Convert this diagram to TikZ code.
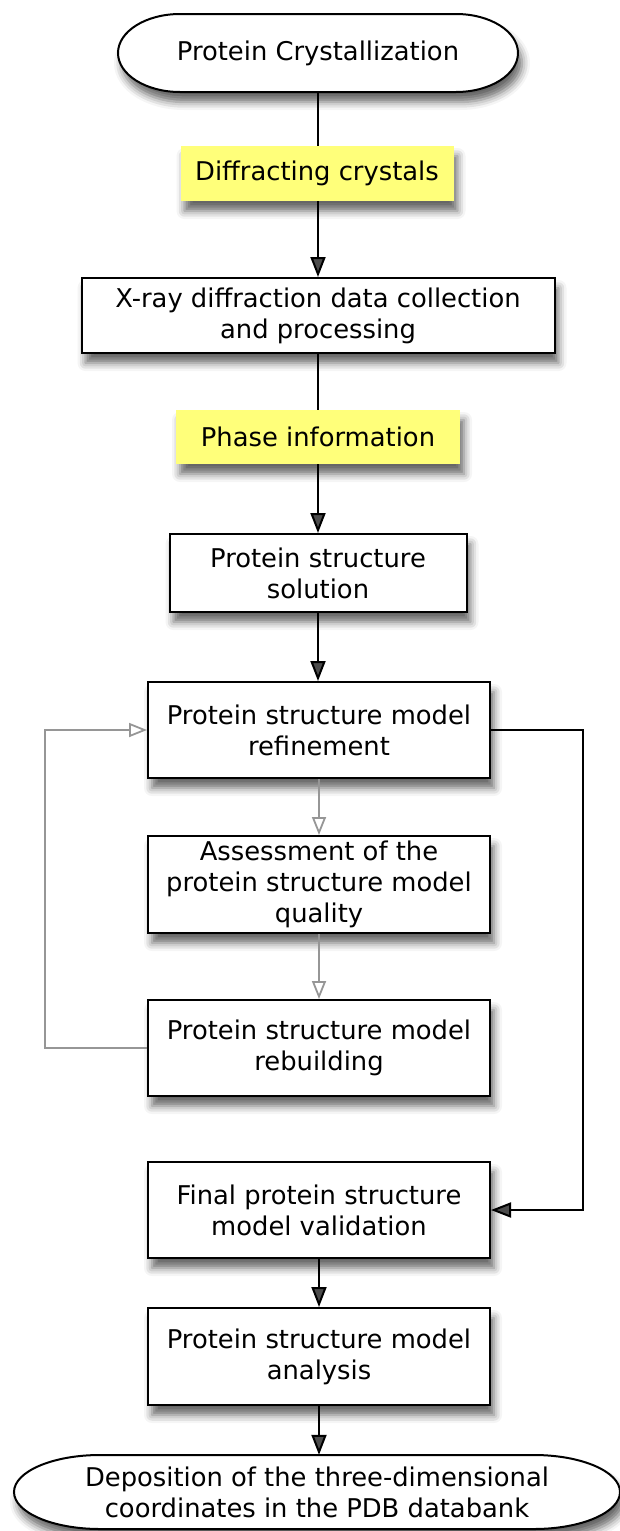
\documentclass[tikz,border=0pt]{standalone}
\usepackage{fontspec}
\setmainfont{DejaVu Sans}
\usetikzlibrary{arrows.meta,shadows.blur}
\definecolor{tagyellow}{RGB}{255,255,122}
\definecolor{loopgray}{RGB}{150,150,150}
\tikzset{
  shade/.style={blur shadow={shadow xshift=4pt,shadow yshift=-10pt,shadow blur radius=8pt,shadow opacity=60}},
  txt/.style={font=\fontsize{25.8}{31}\selectfont,align=center,inner sep=0pt},
  stepbox/.style={txt,draw,line width=2pt,fill=white,shade},
  tag/.style={txt,fill=tagyellow,shade},
  flow/.style={line width=2pt,-{Triangle[width=15pt,length=20pt]}},
  back/.style={line width=1.8pt,loopgray,-{Triangle[open,width=14pt,length=18pt,fill=white]}}
}
\begin{document}
\begin{tikzpicture}[x=1pt,y=1pt]
  \useasboundingbox (0,0) rectangle (620,-1531);
  %% terminals
  \draw[line width=2pt,fill=white,shade] (180,-14) -- (456,-14)
    arc[start angle=90,end angle=-90,x radius=62,y radius=39] -- (180,-92)
    arc[start angle=-90,end angle=-270,x radius=62,y radius=39] -- cycle;
  \node[txt,minimum width=403,minimum height=78] (top) at (318,-53) {Protein Crystallization};
  \draw[line width=2pt,fill=white,shade] (100,-1455) -- (534,-1455)
    arc[start angle=90,end angle=-90,x radius=86,y radius=37] -- (100,-1529)
    arc[start angle=-90,end angle=-270,x radius=86,y radius=37] -- cycle;
  \node[txt,minimum width=608,minimum height=74] (depo) at (317,-1492)
    {Deposition of the three-dimensional\\coordinates in the PDB databank};
  %% steps
  \node[stepbox,minimum width=473,minimum height=75] (xray) at (318,-315.5)
    {X-ray diffraction data collection\\and processing};
  \node[stepbox,minimum width=297,minimum height=78] (sol) at (318,-573)
    {Protein structure\\solution};
  \node[stepbox,minimum width=342,minimum height=96] (refine) at (319,-730)
    {Protein structure model\\refinement};
  \node[stepbox,minimum width=342,minimum height=97] (assess) at (319,-884.5)
    {Assessment of the\\protein structure model\\quality};
  \node[stepbox,minimum width=342,minimum height=96] (rebuild) at (319,-1048)
    {Protein structure model\\rebuilding};
  \node[stepbox,minimum width=342,minimum height=96] (valid) at (319,-1210)
    {Final protein structure\\model validation};
  \node[stepbox,minimum width=342,minimum height=97] (anal) at (319,-1356.5)
    {Protein structure model\\analysis};
  %% main flow
  \draw[flow] (top.south) -- (top.south |- xray.north);
  \draw[flow] (xray.south) -- (xray.south |- sol.north);
  \draw[flow] (sol.south) -- (sol.south |- refine.north);
  \draw[flow] (refine.east) -- ++(92,0) |- (valid.east);
  \draw[flow] (valid) -- (anal);
  \draw[flow] (anal.south) -- (anal.south |- depo.north);
  %% refinement loop
  \draw[back] (refine) -- (assess);
  \draw[back] (assess) -- (rebuild);
  \draw[back] (rebuild.west) -- ++(-102,0) |- (refine.west);
  %% labels on the flow
  \node[tag,minimum width=273,minimum height=55] (crystals) at (317,-173.5) {Diffracting crystals};
  \node[tag,minimum width=284,minimum height=54] (phase) at (318,-437) {Phase information};
\end{tikzpicture}
\end{document}
